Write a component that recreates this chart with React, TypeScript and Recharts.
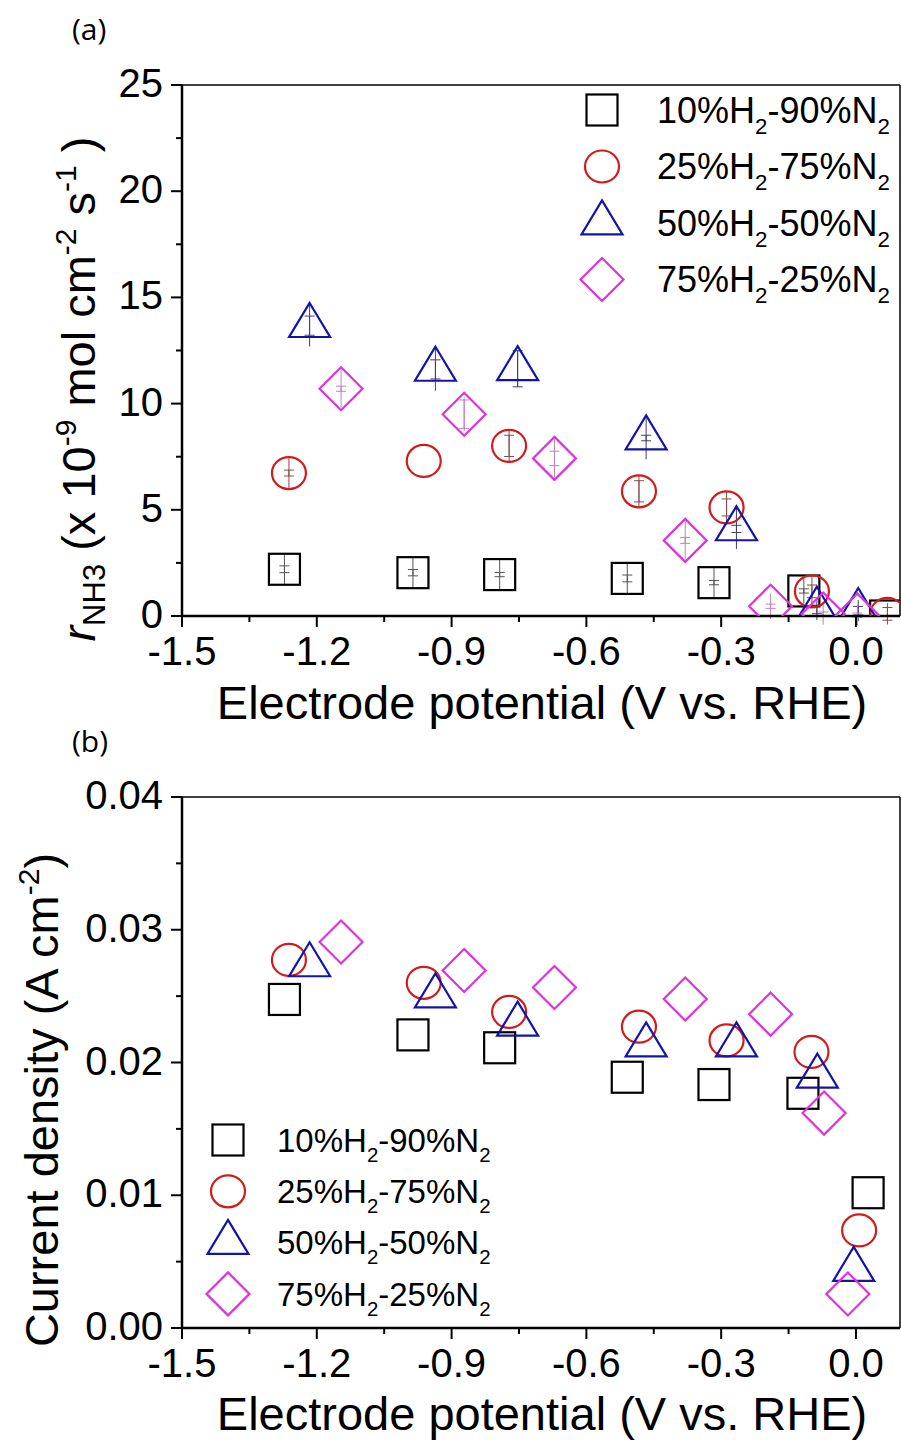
import React from 'react';
import { ScatterChart, Scatter, XAxis, YAxis, ErrorBar, Legend, ReferenceLine } from 'recharts';

const FONT = '"Liberation Sans", Arial, sans-serif';

// gas mixtures (legend labels, "_2" = subscript)
const gasLabels = ['10%H_2-90%N_2', '25%H_2-75%N_2', '50%H_2-50%N_2', '75%H_2-25%N_2'];

// panel (a): NH3 formation rate (x 10^-9 mol cm^-2 s^-1) vs potential (V vs. RHE)
const aE10 = [-1.272, -0.986, -0.793, -0.509, -0.316, -0.116, 0.066];
const aR10 = [2.2, 2.04, 1.95, 1.77, 1.57, 1.18, 0.0];
const aErrOut10 = [0.7, 0.7, 0.7, 0.7, 0.7, 0.6, 0];
const aErrIn10 = [0.16, 0.15, 0.1, 0.16, 0.1, 0.1, 0];

const aE25 = [-1.262, -0.962, -0.772, -0.483, -0.288, -0.098, 0.07];
const aR25 = [6.73, 7.3, 8.01, 5.87, 5.11, 1.16, 0.1];
const aErrOut25 = [0.7, 0, 0.75, 0.75, 0.75, 0.7, 0.5];
const aErrIn25 = [0.14, 0, 0.5, 0.5, 0.4, 0.3, 0.3];

const aE50 = [-1.216, -0.936, -0.753, -0.467, -0.266, -0.087, 0.005];
const aR50 = [13.67, 11.61, 11.64, 8.38, 4.1, 0.31, 0.25];
const aErrOut50 = [0.98, 1.0, 0.85, 1.0, 0.95, 0.5, 0.5];
const aErrIn50 = [0.45, 0.45, 0.85, 0.13, 0.17, 0.2, 0.2];

const aE75 = [-1.146, -0.872, -0.671, -0.38, -0.19, -0.073, 0.003];
const aR75 = [10.7, 9.5, 7.42, 3.56, 0.46, 0.09, 0.04];
const aErrOut75 = [0.9, 0.8, 0.9, 0.9, 0.6, 0.5, 0.5];
const aErrIn75 = [0.12, 0.67, 0.34, 0.14, 0.1, 0.1, 0.1];

// panel (b): current density (A cm^-2)
const bE10 = [-1.272, -0.986, -0.793, -0.509, -0.316, -0.118, 0.027];
const bJ10 = [0.02475, 0.02208, 0.02111, 0.01889, 0.01834, 0.01768, 0.01019];
const bE25 = [-1.262, -0.962, -0.772, -0.483, -0.288, -0.099, 0.007];
const bJ25 = [0.02773, 0.026, 0.02381, 0.0227, 0.02166, 0.0208, 0.00735];
const bE50 = [-1.216, -0.936, -0.753, -0.467, -0.266, -0.086, -0.005];
const bJ50 = [0.02735, 0.025, 0.02288, 0.02132, 0.02132, 0.01896, 0.0044];
const bE75 = [-1.146, -0.872, -0.671, -0.38, -0.19, -0.071, -0.018];
const bJ75 = [0.02908, 0.02693, 0.02565, 0.02478, 0.02364, 0.01619, 0.00256];

// ticks
const xMajor = [-1.5, -1.2, -0.9, -0.6, -0.3, 0];
const xMinor = [-1.35, -1.05, -0.75, -0.45, -0.15];
const aYMajor = [0, 5, 10, 15, 20, 25];
const aYMinor = [2.5, 7.5, 12.5, 17.5, 22.5];
const bYMajor = [0, 0.01, 0.02, 0.03, 0.04];
const bYMinor = [0.005, 0.015, 0.025, 0.035];

const kinds = ['square', 'circle', 'triangle', 'diamond'];
const colors = ['#000000', '#d21c1c', '#1414a8', '#dd33dd'];
const errColors = ['#555555', '#8a4a4a', '#404070', '#c080c0'];

const zip = (xs: number[], ys: number[], eo?: number[], ei?: number[]) =>
  xs.map((x, i) => ({ x, y: ys[i], eo: eo ? eo[i] : 0, ei: ei ? ei[i] : 0 }));

const panelA = [
  zip(aE10, aR10, aErrOut10, aErrIn10),
  zip(aE25, aR25, aErrOut25, aErrIn25),
  zip(aE50, aR50, aErrOut50, aErrIn50),
  zip(aE75, aR75, aErrOut75, aErrIn75),
];
const panelB = [zip(bE10, bJ10), zip(bE25, bJ25), zip(bE50, bJ50), zip(bE75, bJ75)];

const Marker = ({ kind, cx, cy, color }: any) => {
  const sw = 2.2;
  if (kind === 'square') {
    return <rect x={cx - 15.5} y={cy - 15.5} width={31} height={31} fill="none" stroke={color} strokeWidth={sw} />;
  }
  if (kind === 'circle') {
    return <ellipse cx={cx} cy={cy} rx={17} ry={16} fill="none" stroke={color} strokeWidth={sw} />;
  }
  if (kind === 'triangle') {
    const w = 41, h = 34;
    const pts = `${cx},${cy - (2 * h) / 3} ${cx + w / 2},${cy + h / 3} ${cx - w / 2},${cy + h / 3}`;
    return <polygon points={pts} fill="none" stroke={color} strokeWidth={sw} strokeLinejoin="miter" />;
  }
  const r = 21.5;
  const pts = `${cx},${cy - r} ${cx + r},${cy} ${cx},${cy + r} ${cx - r},${cy}`;
  return <polygon points={pts} fill="none" stroke={color} strokeWidth={sw} />;
};

const SubText = ({ label, x, y, fontSize }: any) => {
  const parts = label.split(/_(\d)/);
  const shift = fontSize * 0.3;
  return (
    <text x={x} y={y} fontSize={fontSize} fontFamily={FONT} fill="#000">
      {parts.map((p: string, i: number) =>
        i % 2 === 1 ? (
          <tspan key={i} dy={shift} fontSize={fontSize * 0.62}>{p}</tspan>
        ) : (
          <tspan key={i} dy={i === 0 ? 0 : -shift}>{p}</tspan>
        )
      )}
    </text>
  );
};

const makeLegend = (o: any) => () => (
  <svg width={o.w} height={o.h} style={{ display: 'block', overflow: 'visible' }}>
    {gasLabels.map((lab, i) => {
      const cy = o.y0 + i * o.gap;
      return (
        <g key={lab}>
          <Marker kind={kinds[i]} cx={o.mx} cy={cy} color={colors[i]} />
          <SubText label={lab} x={o.tx} y={cy + o.fs * 0.36} fontSize={o.fs} />
        </g>
      );
    })}
  </svg>
);

const near = (list: number[], v: number) => list.some((m) => Math.abs(m - v) < 1e-9);

const makeXTick = () => (props: any) => {
  const { x, y, payload } = props;
  const major = near(xMajor, payload.value);
  return (
    <g>
      <line x1={x} x2={x} y1={y} y2={y + (major ? 11 : 6)} stroke="#000" strokeWidth={2} />
      {major && (
        <text x={x} y={y + 49} textAnchor="middle" fontSize={40} fontFamily={FONT} fill="#000">
          {payload.value.toFixed(1)}
        </text>
      )}
    </g>
  );
};

const makeYTick = (majors: number[], digits: number) => (props: any) => {
  const { x, y, payload } = props;
  const major = near(majors, payload.value);
  return (
    <g>
      <line x1={x} x2={x - (major ? 11 : 6)} y1={y} y2={y} stroke="#000" strokeWidth={2} />
      {major && (
        <text x={x - 19} y={y + 12} textAnchor="end" fontSize={40} fontFamily={FONT} fill="#000">
          {payload.value.toFixed(digits)}
        </text>
      )}
    </g>
  );
};

const xTitle = (baseline: number) => () => (
  <text x={542} y={baseline} textAnchor="middle" fontSize={47} fontFamily={FONT} fill="#000">
    Electrode potential (V vs. RHE)
  </text>
);

const topYTitle = () => (
  <g>
    <text x={72} y={40} fontSize={30} fontFamily='"Open Sans", sans-serif' fill="#000">(a)</text>
    <text transform="translate(95,389) rotate(-90)" textAnchor="middle" fontSize={47} fontFamily={FONT} fill="#000">
      <tspan fontStyle="italic">r</tspan>
      <tspan dy={10} fontSize={31}>NH3</tspan>
      <tspan dy={-10}>{' (x 10'}</tspan>
      <tspan dy={-19} fontSize={30}>-9</tspan>
      <tspan dy={19}>{' mol cm'}</tspan>
      <tspan dy={-19} fontSize={30}>-2</tspan>
      <tspan dy={19}>{' s'}</tspan>
      <tspan dy={-19} fontSize={30}>-1</tspan>
      <tspan dy={19}>{' )'}</tspan>
    </text>
  </g>
);

const bottomYTitle = () => (
  <g>
    <text x={72} y={32} fontSize={30} fontFamily='"Open Sans", sans-serif' fill="#000">(b)</text>
    <text transform="translate(58,380) rotate(-90)" textAnchor="middle" fontSize={47} fontFamily={FONT} fill="#000">
      <tspan>{'Current density (A cm'}</tspan>
      <tspan dy={-19} fontSize={30}>-2</tspan>
      <tspan dy={19}>{')'}</tspan>
    </text>
  </g>
);

const Panel = ({ series, height, top, yDomain, yMajor, yMinor, digits, xTitleY, yTitle, legend, withErr }: any) => {
  const plotBottom = top + 531;
  return (
    <ScatterChart width={901} height={height} margin={{ top, right: 1, bottom: 0, left: 0 }}>
      <XAxis
        type="number"
        dataKey="x"
        domain={[-1.5, 0.098]}
        allowDataOverflow
        ticks={[...xMajor, ...xMinor].sort((a, b) => a - b)}
        interval={0}
        tickSize={0}
        tickMargin={0}
        tickLine={false}
        tick={makeXTick()}
        height={height - plotBottom}
        axisLine={{ stroke: '#000', strokeWidth: 2.5 }}
        label={xTitle(xTitleY)}
      />
      <YAxis
        type="number"
        dataKey="y"
        domain={yDomain}
        allowDataOverflow
        ticks={[...yMajor, ...yMinor].sort((a, b) => a - b)}
        interval={0}
        tickSize={0}
        tickMargin={0}
        tickLine={false}
        tick={makeYTick(yMajor, digits)}
        width={182}
        axisLine={{ stroke: '#000', strokeWidth: 2.5 }}
        label={yTitle}
      />
      <ReferenceLine y={yDomain[1]} stroke="#000" strokeWidth={1.5} />
      <ReferenceLine x={0.098} stroke="#000" strokeWidth={1.5} />
      {series.map((data: any[], i: number) => (
        <Scatter
          key={gasLabels[i]}
          name={gasLabels[i]}
          data={data}
          fill="none"
          isAnimationActive={false}
          shape={(p: any) => <Marker kind={kinds[i]} cx={p.cx} cy={p.cy} color={colors[i]} />}
        >
          {withErr && (
            <ErrorBar dataKey="eo" direction="y" width={0} stroke={errColors[i]} strokeWidth={1} />
          )}
          {withErr && (
            <ErrorBar dataKey="ei" direction="y" width={5} stroke={errColors[i]} strokeWidth={1} />
          )}
        </Scatter>
      ))}
      <Legend
        layout="horizontal"
        verticalAlign="middle"
        align="center"
        wrapperStyle={{ top: legend.top, left: legend.left, width: legend.w, height: legend.h }}
        content={makeLegend(legend)}
      />
    </ScatterChart>
  );
};

export default function App() {
  return (
    <div style={{ position: 'absolute', left: 0, top: 0, width: 901, height: 1441, background: '#fff' }}>
      <div style={{ position: 'absolute', left: 0, top: 720 }}>
        <Panel
          series={panelB}
          height={721}
          top={77}
          yDomain={[0, 0.04]}
          yMajor={bYMajor}
          yMinor={bYMinor}
          digits={2}
          xTitleY={710}
          yTitle={bottomYTitle}
          withErr={false}
          legend={{ top: 390, left: 180, w: 330, h: 220, mx: 48, tx: 97, y0: 30, gap: 51.3, fs: 33 }}
        />
      </div>
      <div style={{ position: 'absolute', left: 0, top: 0 }}>
        <Panel
          series={panelA}
          height={740}
          top={85}
          yDomain={[0, 25]}
          yMajor={aYMajor}
          yMinor={aYMinor}
          digits={0}
          xTitleY={719}
          yTitle={topYTitle}
          withErr
          legend={{ top: 78, left: 555, w: 346, h: 240, mx: 47, tx: 102, y0: 32, gap: 56.5, fs: 36 }}
        />
      </div>
    </div>
  );
}
